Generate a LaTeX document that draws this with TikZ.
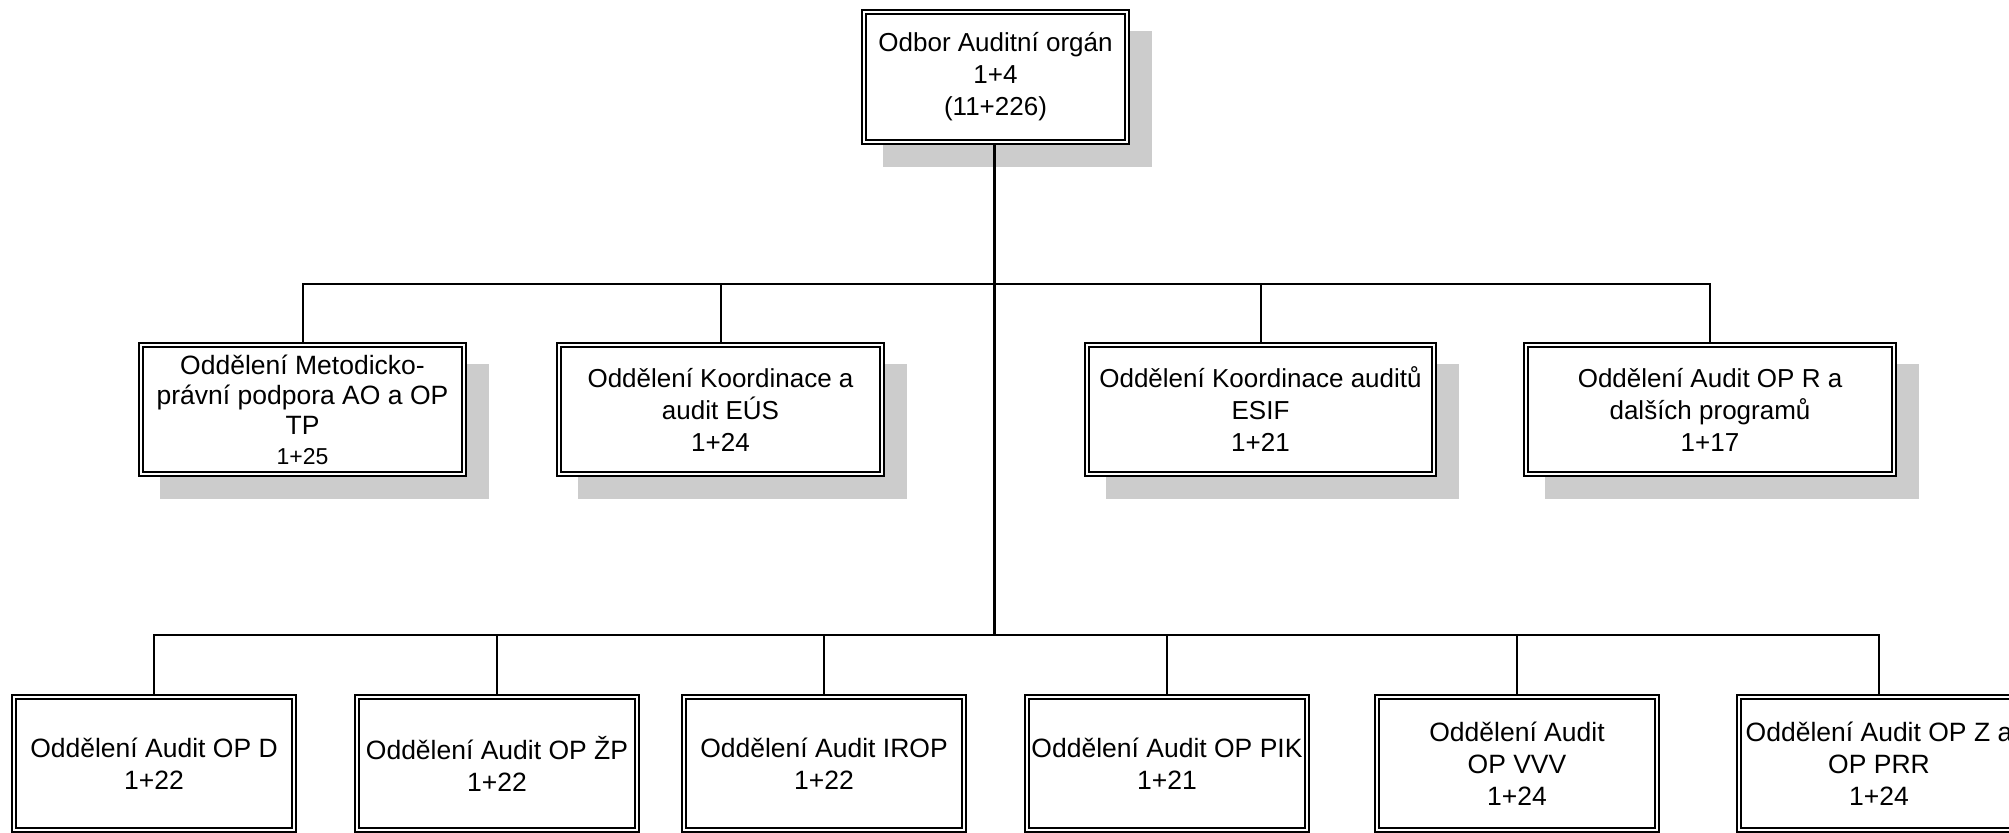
\documentclass[tikz,border=0pt]{standalone}
\usepackage{fontspec}
\setmainfont{Liberation Sans}
\usetikzlibrary{backgrounds}
\definecolor{shadowgray}{RGB}{204,204,204}
\tikzset{
  orgbox/.style={draw=black, line width=1.8pt, double=white, double distance=2.4pt,
    fill=white, inner sep=0pt, outer sep=0pt, align=center,
    font=\fontsize{26}{32}\selectfont},
  wideA/.style={minimum width=323pt, minimum height=129pt},
  wideC/.style={minimum width=347pt, minimum height=129pt},
  wideD/.style={minimum width=368pt, minimum height=129pt},
  lowbox/.style={minimum width=280pt, minimum height=133pt},
  topbox/.style={minimum width=263pt, minimum height=130pt},
  trunk/.style={draw=black, line width=3pt},
  branch/.style={draw=black, line width=2pt},
  shade/.style={fill=shadowgray}
}
\begin{document}
\begin{tikzpicture}[x=1pt,y=-1pt]
\useasboundingbox (0,0) rectangle (2009,832);
\clip (0,0) rectangle (2009,832);

% top
\node[orgbox, topbox] (top) at (995.5,77) {Odbor Auditní orgán\\1+4\\(11+226)};

% level 2
\node[orgbox, wideA, font=\fontsize{26.5}{30}\selectfont] (a) at (302.5,409.5) {Oddělení Metodicko-\\právní podpora AO a OP\\TP\\{\fontsize{23}{30}\selectfont 1+25}};
\node[orgbox, wideA] (b) at (720.5,409.5) {Oddělení Koordinace a\\audit EÚS\\1+24};
\node[orgbox, wideC] (c) at (1260.5,409.5) {Oddělení Koordinace auditů\\ESIF\\1+21};
\node[orgbox, wideD] (d) at (1710,409.5) {Oddělení Audit OP R a\\dalších programů\\1+17};

% level 3
\node[orgbox, lowbox, font=\fontsize{26.5}{32}\selectfont] (e) at (154,763.5) {Oddělení Audit OP D\\1+22};
\node[orgbox, lowbox, font=\fontsize{26.5}{32}\selectfont] (f) at (497,763.5) {Oddělení Audit OP ŽP\\1+22};
\node[orgbox, lowbox, font=\fontsize{26.5}{32}\selectfont] (g) at (824,763.5) {Oddělení Audit IROP\\1+22};
\node[orgbox, lowbox, font=\fontsize{26.5}{32}\selectfont] (h) at (1167,763.5) {Oddělení Audit OP PIK\\1+21};
\node[orgbox, lowbox, font=\fontsize{26.5}{32}\selectfont] (i) at (1517,763.5) {Oddělení Audit\\OP VVV\\1+24};
\node[orgbox, lowbox, font=\fontsize{26.5}{32}\selectfont] (k) at (1879,763.5) {Oddělení Audit OP Z a\\OP PRR\\1+24};

\coordinate (j1) at (994,284);
\coordinate (j2) at (994,635);

\begin{scope}[on background layer]
  \foreach \n in {top,a,b,c,d}{
    \fill[shade] ([shift={(19,19)}]\n.north west) rectangle ([shift={(25,25)}]\n.south east);
  }
  \draw[trunk] (top.south -| j1) -- (j2);
  \foreach \n in {a,b,c,d}{
    \draw[branch] (j1) -| (\n.north);
  }
  \foreach \n in {e,f,g,h,i,k}{
    \draw[branch] (j2) -| (\n.north);
  }
\end{scope}
\end{tikzpicture}
\end{document}
